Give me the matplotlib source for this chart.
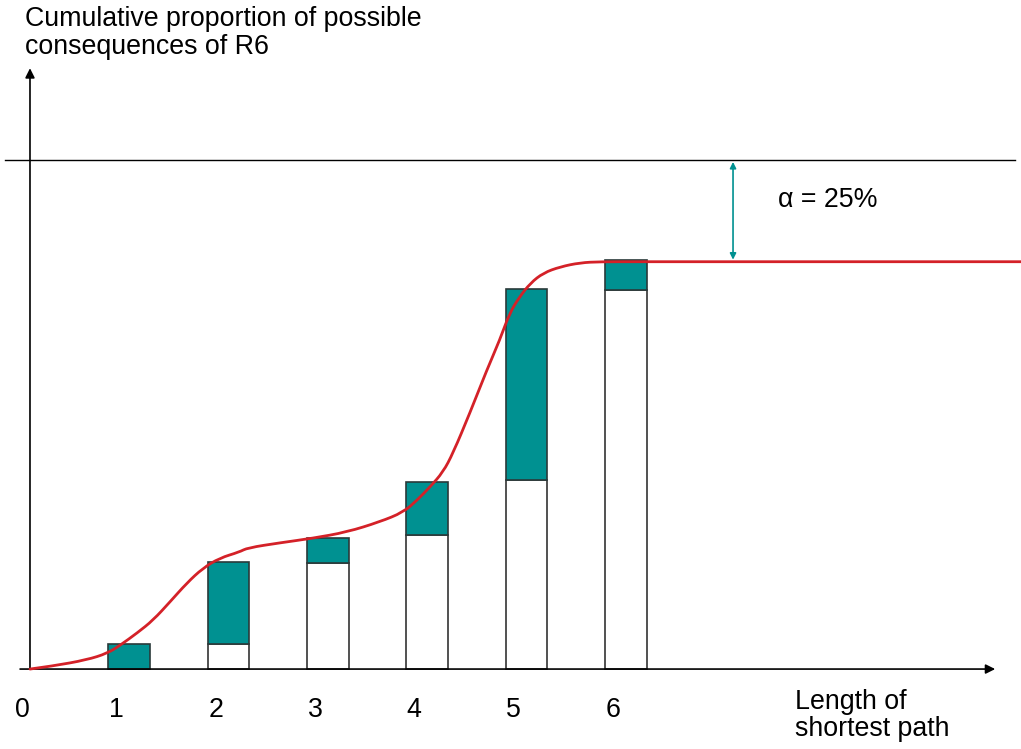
import matplotlib
matplotlib.use("Agg")
import matplotlib.pyplot as plt
from matplotlib.path import Path
from matplotlib.patches import PathPatch

# path lengths and cumulative proportions
lengths = [1, 2, 3, 4, 5, 6]
known_part = [0.0, 0.049, 0.208, 0.263, 0.371, 0.745]
total_part = [0.049, 0.210, 0.257, 0.367, 0.747, 0.804]
tick_labels = ["0", "1", "2", "3", "4", "5", "6"]

# red smooth curve, sampled along the drawn line
curve_x = [0.0, 0.23, 0.57, 0.78, 0.91, 1.08, 1.24, 1.41, 1.58, 1.74, 1.91,
           2.11, 2.19, 2.52, 2.85, 3.19, 3.52, 3.76, 3.90, 4.03, 4.16, 4.26,
           4.43, 4.60, 4.73, 4.83, 4.93, 5.04, 5.17, 5.34, 5.54, 5.74, 6.14, 9.98]
curve_y = [0.0, 0.006, 0.018, 0.031, 0.047, 0.071, 0.096, 0.132, 0.169, 0.198, 0.218,
           0.230, 0.238, 0.248, 0.257, 0.269, 0.289, 0.308, 0.332, 0.358, 0.387, 0.424,
           0.503, 0.587, 0.646, 0.699, 0.731, 0.758, 0.778, 0.790, 0.798, 0.800, 0.800, 0.800]

upper_limit = 1.0
plateau = 0.804

TEAL = "#009191"
RED = "#d42128"
FONT = "Liberation Sans"
FS = 19.3


def smooth_path(xs, ys):
    # quadratic bezier through midpoints, sampled points act as control points
    pts = list(zip(xs, ys))
    verts = [pts[0]]
    codes = [Path.MOVETO]
    for i in range(1, len(pts) - 1):
        mid = ((pts[i][0] + pts[i + 1][0]) / 2, (pts[i][1] + pts[i + 1][1]) / 2)
        if i == len(pts) - 2:
            mid = pts[-1]
        verts += [pts[i], mid]
        codes += [Path.CURVE3, Path.CURVE3]
    return Path(verts, codes)


fig = plt.figure(figsize=(10.21, 7.49), dpi=100)
ax = fig.add_axes([0, 0, 1, 1])
ax.set_xlim(-0.302, 9.98)
ax.set_ylim(-0.157, 1.314)
ax.axis("off")

# axes with arrow heads
ax.annotate("", xy=(0, 1.18), xytext=(0, 0),
            arrowprops=dict(arrowstyle="-|>", color="black", lw=1.2, mutation_scale=14,
                            shrinkA=0, shrinkB=0))
ax.annotate("", xy=(9.72, 0), xytext=(-0.10, 0),
            arrowprops=dict(arrowstyle="-|>", color="black", lw=1.2, mutation_scale=14,
                            shrinkA=0, shrinkB=0))
ax.plot([-0.25, 9.92], [upper_limit, upper_limit], color="black", lw=1.0)

# stacked bars
teal_h = [t - k for t, k in zip(total_part, known_part)]
ax.bar(lengths, known_part, width=0.42, color="white", edgecolor="#333333", lw=1.2, zorder=2)
ax.bar(lengths, teal_h, bottom=known_part, width=0.42, color=TEAL,
       edgecolor="#2a3a3a", lw=1.2, zorder=2)

ax.add_patch(PathPatch(smooth_path(curve_x, curve_y), facecolor="none", edgecolor=RED,
                       lw=2.0, zorder=3, capstyle="round"))

# alpha gap
ax.annotate("", xy=(7.08, upper_limit - 0.004), xytext=(7.08, plateau),
            arrowprops=dict(arrowstyle="<|-|>", color=TEAL, lw=1.2, mutation_scale=9,
                            shrinkA=0, shrinkB=0))
ax.text(7.53, 0.921, "α = 25%", fontsize=FS, family=FONT, va="center", ha="left")

# tick labels
for i, lab in enumerate(tick_labels):
    off = -0.08 if i == 0 else -0.13
    ax.text(i + off, -0.08, lab, fontsize=FS, family=FONT, ha="center", va="center")

ax.text(7.70, -0.092, "Length of\nshortest path", fontsize=FS, family=FONT,
        ha="left", va="center", linespacing=1.05)
ax.text(-0.05, 1.302, "Cumulative proportion of possible\nconsequences of R6", fontsize=FS,
        family=FONT, ha="left", va="top", linespacing=1.1)

fig.savefig("out.png", dpi=100)
